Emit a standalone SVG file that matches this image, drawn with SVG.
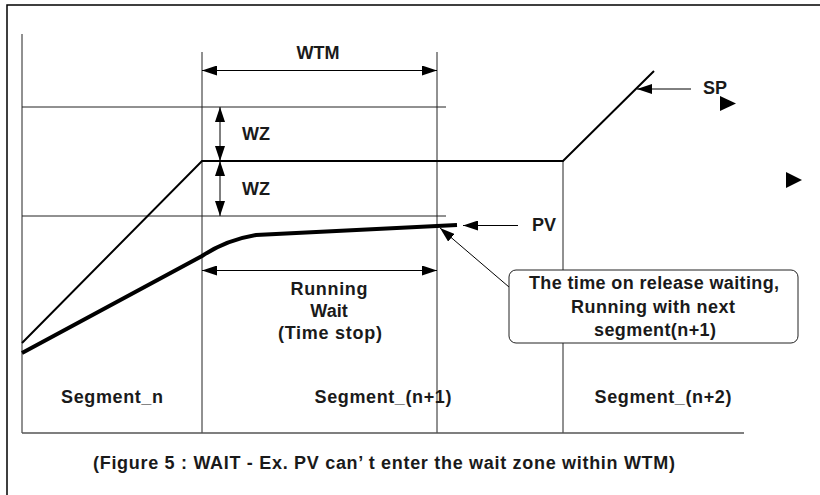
<svg xmlns="http://www.w3.org/2000/svg" width="820" height="495" viewBox="0 0 820 495">
  <style>
    .t { font-family: "Liberation Sans", Arial, sans-serif; font-size: 18px; font-weight: bold; fill: #1a1a1a; }
    .m { text-anchor: middle; }
    .thin { stroke: #222; stroke-width: 1; fill: none; }
    .arr { stroke: #000; stroke-width: 1; fill: none; marker-end: url(#ah); }
    .arr2 { stroke: #000; stroke-width: 1; fill: none; marker-start: url(#ah); marker-end: url(#ah); }
  </style>
  <defs>
    <marker id="ah" markerUnits="userSpaceOnUse" markerWidth="16" markerHeight="10" refX="15" refY="5" orient="auto-start-reverse">
      <path d="M0,0 L15,5 L0,10 z" fill="#000"/>
    </marker>
  </defs>
  <rect width="820" height="495" fill="#fff"/>
  <g id="frame">
    <path d="M7,495 L7,5 L820,5" stroke="#000" stroke-width="1.5" fill="none"/>
  </g>
  <g id="grid">
    <line class="thin" x1="22" y1="34" x2="22" y2="433"/>
    <line class="thin" x1="202" y1="52" x2="202" y2="433"/>
    <line class="thin" x1="437" y1="52" x2="437" y2="433"/>
    <line class="thin" x1="563" y1="161" x2="563" y2="433"/>
    <line x1="22" y1="433" x2="744" y2="433" stroke="#555" stroke-width="1.5"/>
    <line class="thin" x1="22" y1="107" x2="446" y2="107"/>
    <line class="thin" x1="22" y1="216" x2="446" y2="216"/>
  </g>
  <g id="sp-curve">
    <path d="M22,343 L202,161 L563,161 L654,71" stroke="#000" stroke-width="2" fill="none"/>
  </g>
  <g id="pv-curve">
    <path d="M22,353 L202,256 Q226,240 256,235 L457,225" stroke="#000" stroke-width="4" fill="none"/>
  </g>
  <g id="connectors">
    <line class="arr2" x1="202" y1="70.5" x2="437" y2="70.5"/>
    <line class="arr2" x1="220" y1="107" x2="220" y2="161"/>
    <line class="arr2" x1="220" y1="161" x2="220" y2="216"/>
    <line class="arr2" x1="202" y1="270.5" x2="437" y2="270.5"/>
    <line class="arr" x1="691" y1="89" x2="637" y2="89"/>
    <line class="arr" x1="518" y1="225.5" x2="463" y2="225.5"/>
    <line class="arr" x1="509" y1="287" x2="440" y2="228"/>
    <path d="M720,96 L736,103.5 L720,111 z" fill="#000"/>
    <path d="M786,172 L802,180 L786,188 z" fill="#000"/>
  </g>
  <g id="labels">
    <text class="t m" x="318" y="59">WTM</text>
    <text class="t" x="242" y="140" font-size="17">WZ</text>
    <text class="t" x="242" y="195" font-size="17">WZ</text>
    <text class="t" x="703" y="94">SP</text>
    <text class="t" x="532" y="231">PV</text>
    <text class="t m" x="329" y="295" textLength="77" lengthAdjust="spacing">Running</text>
    <text class="t m" x="329" y="317">Wait</text>
    <text class="t m" x="330" y="339" textLength="104" lengthAdjust="spacing">(Time stop)</text>
    <text class="t m" x="112" y="403" textLength="102" lengthAdjust="spacing">Segment_n</text>
    <text class="t m" x="383" y="403" textLength="137" lengthAdjust="spacing">Segment_(n+1)</text>
    <text class="t m" x="663" y="403" textLength="137" lengthAdjust="spacing">Segment_(n+2)</text>
    <text class="t" x="93" y="469" textLength="582" lengthAdjust="spacing">(Figure 5 : WAIT - Ex. PV can’ t enter the wait zone within WTM)</text>
  </g>
  <g id="callout">
    <rect x="509" y="270" width="289" height="73" rx="7" ry="7" fill="#fff" stroke="#222" stroke-width="1"/>
    <text class="t m" x="654" y="289" textLength="250" lengthAdjust="spacing">The time on release waiting,</text>
    <text class="t m" x="653" y="313" textLength="164" lengthAdjust="spacing">Running with next</text>
    <text class="t m" x="655" y="336" textLength="122" lengthAdjust="spacing">segment(n+1)</text>
  </g>
</svg>
